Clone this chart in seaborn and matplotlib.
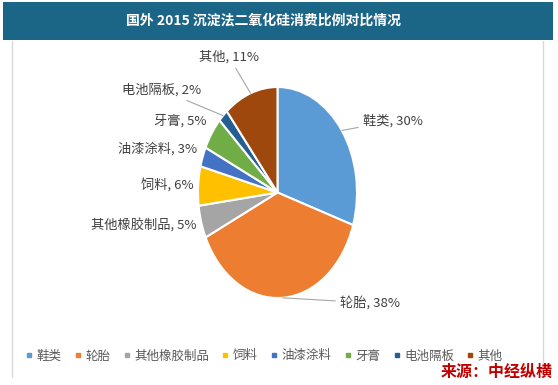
import numpy as np
import matplotlib
matplotlib.use("Agg")
import matplotlib.pyplot as plt
from matplotlib.patches import Rectangle
from matplotlib.lines import Line2D
import seaborn as sns

# data
categories = ["鞋类", "轮胎", "其他橡胶制品", "饲料", "油漆涂料", "牙膏", "电池隔板", "其他"]
shares = [30, 38, 5, 6, 3, 5, 2, 11]
colors = ["#5B9BD5", "#ED7D31", "#A5A5A5", "#FFC000", "#4472C4", "#70AD47", "#255E91", "#9E480E"]

# label text anchors (axes data units) and whether a leader line is drawn
label_pos = [(1.075, 0.678), (0.786, -1.047), (-1.013, -0.318), (-1.05, 0.071),
             (-1.013, 0.412), (-0.887, 0.678), (-0.962, 0.972), (-0.61, 1.284)]
label_ha = ["left", "left", "right", "right", "right", "right", "right", "center"]
leaders = [True, True, False, False, False, False, True, True]

sns.set_theme(style="white")
plt.rcParams["font.family"] = ["Noto Sans CJK SC", "DejaVu Sans"]

W, H = 558, 385
fig = plt.figure(figsize=(W / 100, H / 100), dpi=100)
fig.patch.set_facecolor("white")

# title bar
fig.patches.append(Rectangle((3 / W, 1 - 40 / H), 550 / W, 38 / H,
                             transform=fig.transFigure, facecolor="#1B6586",
                             edgecolor="none", zorder=0))
fig.text(264 / W, 1 - 21 / H, "国外 2015 沉淀法二氧化硅消费比例对比情况",
         color="white", fontsize=10, fontweight="bold", ha="center", va="center")

# side frame lines
for xp in (12, 543):
    fig.lines.append(Line2D([xp / W, xp / W], [1 - 41 / H, 1 - 377 / H],
                            transform=fig.transFigure, color="#D9D9D9", lw=1))

# pie (stretched vertically like the original)
ax = fig.add_axes([198 / W, 1 - 298 / H, 159 / W, 211 / H])
wedges, _ = ax.pie(shares, colors=colors, startangle=90, counterclock=False,
                   wedgeprops=dict(edgecolor="white", linewidth=1.5))
ax.set_aspect("auto")
ax.set_xlim(-1, 1)
ax.set_ylim(-1, 1)
ax.axis("off")

for w, cat, val, pos, ha, ld in zip(wedges, categories, shares, label_pos, label_ha, leaders):
    mid = np.deg2rad((w.theta1 + w.theta2) / 2)
    edge = (np.cos(mid), np.sin(mid))
    props = dict(arrowstyle="-", color="#A6A6A6", lw=0.8, shrinkA=1, shrinkB=0) if ld else None
    ax.annotate(f"{cat}, {val}%", xy=edge, xytext=pos, ha=ha, va="center",
                fontsize=9.5, color="#404040", arrowprops=props,
                annotation_clip=False)

# legend
handles = [Line2D([], [], marker="s", linestyle="none", markersize=3.5,
                  markerfacecolor=c, markeredgecolor=c) for c in colors]
fig.legend(handles, categories, loc="center", bbox_to_anchor=(264 / W, 1 - 356 / H),
           ncol=8, frameon=False, fontsize=9, handlelength=0.6, handletextpad=0.3,
           columnspacing=1.0, labelcolor="#595959")

fig.text(553 / W, 1 - 372 / H, "来源：中经纵横", color="#C00000", fontsize=11.5,
         fontweight="bold", style="italic", ha="right", va="center")

fig.savefig("out.png", dpi=100)
